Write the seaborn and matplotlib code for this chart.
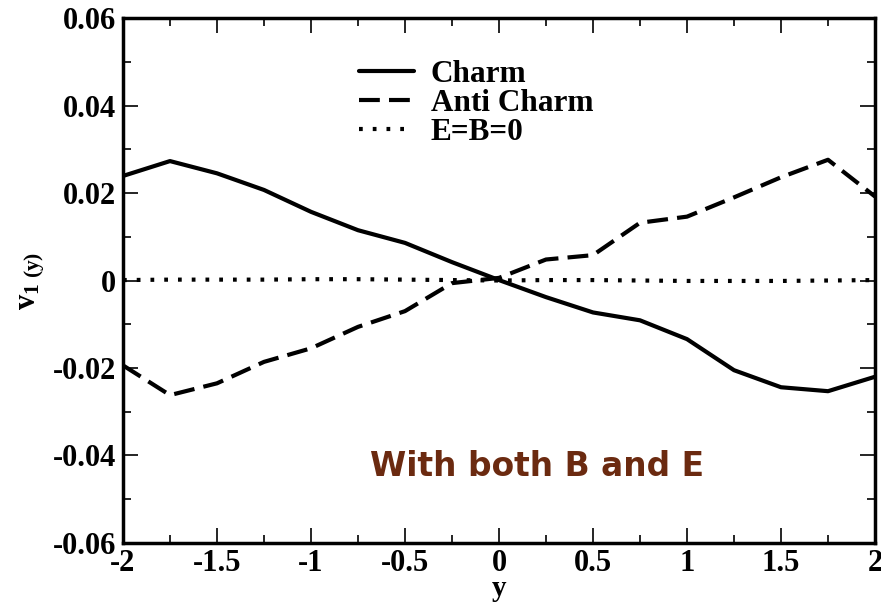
import numpy as np
import pandas as pd
import matplotlib
matplotlib.use("Agg")
import matplotlib.pyplot as plt
import seaborn as sns
from matplotlib.ticker import MultipleLocator

y_rap = [-2.0, -1.75, -1.5, -1.25, -1.0, -0.75, -0.5, -0.25, 0.0,
         0.25, 0.5, 0.75, 1.0, 1.25, 1.5, 1.75, 2.0]
charm = [0.0239, 0.0273, 0.0245, 0.0207, 0.0157, 0.0115, 0.0086, 0.0042, 0.0001,
         -0.0038, -0.0073, -0.0091, -0.0134, -0.0205, -0.0244, -0.0253, -0.0220]
anti_charm = [-0.0194, -0.0262, -0.0235, -0.0186, -0.0155, -0.0106, -0.0070, -0.0006, 0.0006,
              0.0048, 0.0058, 0.0132, 0.0146, 0.0190, 0.0236, 0.0276, 0.0192]
no_field = [0.0001, 0.0002, 0.0002, 0.0002, 0.0003, 0.0003, 0.0002, 0.0001, 0.0000,
            0.0001, 0.0001, 0.0000, -0.0001, -0.0001, -0.0001, 0.0000, 0.0001]
series_names = ["Charm", "Anti Charm", "E=B=0"]

sns.set_theme(style="ticks")
plt.rcParams['font.family'] = ['Liberation Serif', 'DejaVu Serif']
plt.rcParams['font.weight'] = 'bold'
plt.rcParams['mathtext.fontset'] = 'custom'
plt.rcParams['mathtext.rm'] = 'Liberation Serif:bold'
plt.rcParams['mathtext.bf'] = 'Liberation Serif:bold'
plt.rcParams['mathtext.it'] = 'Liberation Serif:bold'
plt.rcParams['text.color'] = 'black'
plt.rcParams['axes.labelcolor'] = 'black'
plt.rcParams['xtick.color'] = 'black'
plt.rcParams['ytick.color'] = 'black'
plt.rcParams['axes.edgecolor'] = 'black'

df = pd.DataFrame({
    "y": y_rap * 3,
    "v1": charm + anti_charm + no_field,
    "series": [series_names[0]] * len(y_rap) + [series_names[1]] * len(y_rap) + [series_names[2]] * len(y_rap),
})

fig = plt.figure(figsize=(8.81, 6.05), dpi=100)
ax = fig.add_axes([0.1396, 0.1025, 0.8536, 0.8677])

for name in series_names:
    sub = df[df["series"] == name]
    sns.lineplot(data=sub, x="y", y="v1", ax=ax, color="black", linewidth=3.0, label=name)
for ln, name in zip(ax.get_lines(), series_names):
    if name == "Anti Charm":
        ln.set_dashes((5, 2.2))
    elif name == "E=B=0":
        ln.set_dashes((0.9, 2.4))

ax.set_xlim(-2, 2)
ax.set_ylim(-0.06, 0.06)
ax.xaxis.set_major_locator(MultipleLocator(0.5))
ax.xaxis.set_minor_locator(MultipleLocator(0.25))
ax.yaxis.set_major_locator(MultipleLocator(0.02))
ax.yaxis.set_minor_locator(MultipleLocator(0.01))
ax.tick_params(which='both', direction='in', top=True, right=True, width=1.2, color='black')
ax.tick_params(which='major', length=11, labelsize=22)
ax.tick_params(axis='x', which='major', pad=4)
ax.tick_params(axis='y', which='major', pad=5)
ax.tick_params(which='minor', length=6)
for lab in ax.get_xticklabels() + ax.get_yticklabels():
    lab.set_fontweight('bold')
ax.yaxis.set_major_formatter(matplotlib.ticker.FuncFormatter(
    lambda v, p: "0" if abs(v) < 1e-9 else f"{v:.2f}"))
ax.xaxis.set_major_formatter(matplotlib.ticker.FuncFormatter(
    lambda v, p: "0" if abs(v) < 1e-9 else (f"{v:.0f}" if abs(v - round(v)) < 1e-9 else f"{v:.1f}")))
for s in ax.spines.values():
    s.set_linewidth(2.5)
    s.set_color('black')

ax.set_xlabel("y", fontsize=21, fontweight='bold', labelpad=-2)
ax.set_ylabel(r"v$_{1\ (y)}$", fontsize=22, fontweight='bold', labelpad=4)

leg = ax.legend(loc='upper left', bbox_to_anchor=(0.293, 0.95), frameon=False,
                fontsize=22.5, handlelength=1.75, handletextpad=0.55, labelspacing=0.0,
                borderpad=0)
for t in leg.get_texts():
    t.set_fontweight('bold')

ax.text(0.55, 0.145, "With both B and E", transform=ax.transAxes,
        fontsize=23.7, fontweight='bold', color='#6B2A10', ha='center', va='center',
        family=['DejaVu Sans'])

fig.savefig("out.png", dpi=100)
